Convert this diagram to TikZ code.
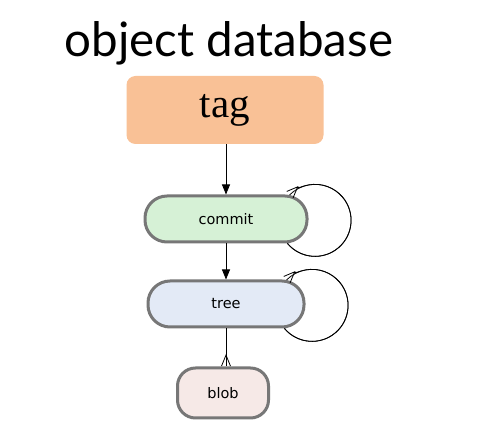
\documentclass[tikz,border=0pt]{standalone}
\usepackage{fontspec}
\setmainfont{DejaVu Sans}
\newfontfamily\titlefont{Lato}
\newfontfamily\tagfont{Liberation Serif}
\usetikzlibrary{arrows.meta}
\definecolor{tagfill}{HTML}{F9C196}
\definecolor{commitfill}{HTML}{D6F1D6}
\definecolor{treefill}{HTML}{E3EAF6}
\definecolor{blobfill}{HTML}{F6E9E7}
\definecolor{objborder}{HTML}{777777}
\tikzset{
  objbox/.style={draw=objborder, line width=3pt, rounded corners=22pt,
    inner sep=0pt, font=\fontsize{14.5}{16}\selectfont},
  solid tip/.style={-{Triangle[length=10pt,width=8pt]}, line width=0.8pt},
  link/.style={line width=0.8pt},
  crowfoot/.style={link, postaction={draw, -{Straight Barb[reversed,length=11pt,width=9pt]}}},
}
\begin{document}
\begin{tikzpicture}[x=1pt,y=-1pt]
  \useasboundingbox (0,0) rectangle (488,438);
  \fill[white] (0,0) rectangle (488,438);

  \node[anchor=base, font=\titlefont\fontsize{47.5}{54}\selectfont] (title) at (229,57) {object database};

  \node[fill=tagfill, rounded corners=9pt, minimum width=197pt, minimum height=68pt,
        inner sep=0pt, font=\tagfont\fontsize{41}{44}\selectfont] (tag) at (225,110) {tag};

  \node[objbox, fill=commitfill, minimum width=162pt, minimum height=46pt] (commit) at (226,219) {commit};
  \node[objbox, fill=treefill, minimum width=156pt, minimum height=46pt] (tree) at (226,304) {tree};
  \node[objbox, fill=blobfill, rounded corners=18pt, minimum width=91pt, minimum height=50pt] (blob) at (223,393) {blob};

  \draw[solid tip] (tag.south -| commit.north) -- (commit.north);
  \draw[solid tip] (commit.south) -- (tree.north);
  \draw[crowfoot] (tree.south) -- (tree.south |- blob.north);

  % self references drawn as arcs round the right end of each box
  \draw[crowfoot] ([xshift=-21pt]commit.south east)
    arc[start angle=140, end angle=-135, radius=36];
  \draw[crowfoot] ([xshift=-21pt]tree.south east)
    arc[start angle=140, end angle=-135, radius=36];
\end{tikzpicture}
\end{document}
